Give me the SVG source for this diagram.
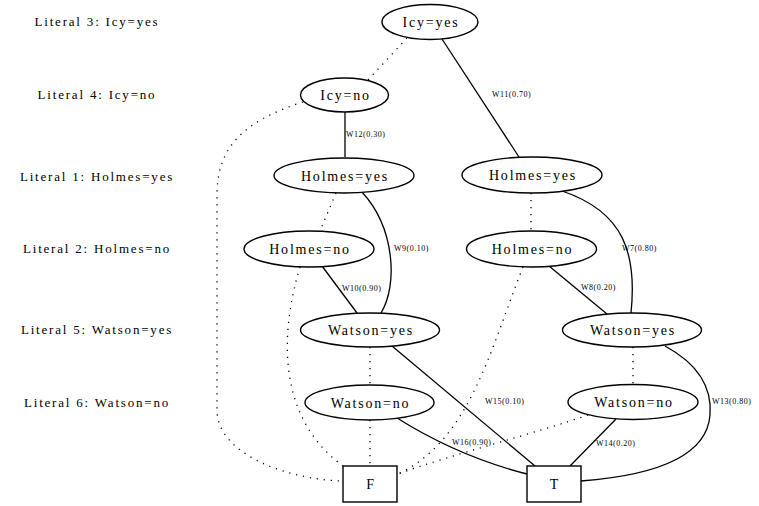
<svg xmlns="http://www.w3.org/2000/svg" width="759" height="506" viewBox="0 0 759 506">
<style>
.bg{fill:#fff}
.node ellipse,.node rect{fill:#fff;stroke:#000;stroke-width:1.4}
text{font-family:'Liberation Serif','Times New Roman','DejaVu Serif',serif;fill:#000}
.nl{font-size:14px;letter-spacing:1.8px;text-anchor:middle}
.lit{font-size:13px;letter-spacing:1.8px;text-anchor:middle}
.el{font-size:8px;letter-spacing:0.5px}
.s{fill:none;stroke:#000;stroke-width:1.3}
.d{fill:none;stroke:#000;stroke-width:1.3;stroke-dasharray:1.2 5.8}
</style>
<rect class="bg" x="0" y="0" width="759" height="506"/>
<g id="literals" font-family="Liberation Serif, serif">
<text class="lit" x="97" y="26">Literal 3: Icy=yes</text>
<text class="lit" x="97" y="99">Literal 4: Icy=no</text>
<text class="lit" x="97" y="181">Literal 1: Holmes=yes</text>
<text class="lit" x="97" y="253">Literal 2: Holmes=no</text>
<text class="lit" x="97" y="334">Literal 5: Watson=yes</text>
<text class="lit" x="97" y="407">Literal 6: Watson=no</text>
</g>
<g id="connectors">
<path class="d" d="M407,38 L368,80"/>
<path class="s" d="M442,39 L519,157"/>
<path class="s" d="M345,112 L345,157"/>
<path class="d" d="M303,102 C240,122 217,150 217,195 L217,410 C217,455 290,480 343,481"/>
<path class="d" d="M336,193 L320,231"/>
<path class="s" d="M362,192 C395,228 398,285 381,313"/>
<path class="s" d="M322,266 L357,313"/>
<path class="d" d="M300,267 C278,340 280,420 343,466"/>
<path class="d" d="M531,193 L531,231"/>
<path class="s" d="M562,191 C625,212 637,255 631,313"/>
<path class="s" d="M549,266 L607,314"/>
<path class="d" d="M523,267 C490,350 470,440 398,474"/>
<path class="d" d="M370,347 L370,385"/>
<path class="s" d="M392,346 L535,466"/>
<path class="d" d="M370,420 L370,466"/>
<path class="s" d="M397,418 C440,445 480,462 527,474"/>
<path class="d" d="M633,347 L633,384"/>
<path class="s" d="M665,346 C700,365 712,390 710,415 C707,455 660,475 581,481"/>
<path class="s" d="M616,419 L570,466"/>
<path class="d" d="M588,415 C540,432 450,455 398,474"/>
<text class="el" x="492" y="97">W11(0.70)</text>
<text class="el" x="346" y="137">W12(0.30)</text>
<text class="el" x="394" y="251">W9(0.10)</text>
<text class="el" x="622" y="251">W7(0.80)</text>
<text class="el" x="581" y="290">W8(0.20)</text>
<text class="el" x="342" y="291">W10(0.90)</text>
<text class="el" x="485" y="404">W15(0.10)</text>
<text class="el" x="712" y="404">W13(0.80)</text>
<text class="el" x="596" y="446">W14(0.20)</text>
<text class="el" x="452" y="445">W16(0.90)</text>
</g>
<g id="n_icy_yes" class="node"><ellipse cx="430" cy="22" rx="48" ry="17.5"/><text class="nl" x="431" y="27">Icy=yes</text></g>
<g id="n_icy_no" class="node"><ellipse cx="344.5" cy="95" rx="44" ry="17"/><text class="nl" x="345.5" y="100">Icy=no</text></g>
<g id="n_holmes_yes_l" class="node"><ellipse cx="344" cy="175.5" rx="70" ry="17.5"/><text class="nl" x="345" y="180.5">Holmes=yes</text></g>
<g id="n_holmes_no_l" class="node"><ellipse cx="309" cy="249" rx="65" ry="18"/><text class="nl" x="310" y="254">Holmes=no</text></g>
<g id="n_holmes_yes_r" class="node"><ellipse cx="532" cy="175" rx="70" ry="18"/><text class="nl" x="533" y="180">Holmes=yes</text></g>
<g id="n_holmes_no_r" class="node"><ellipse cx="531.5" cy="249" rx="65" ry="18"/><text class="nl" x="532.5" y="254">Holmes=no</text></g>
<g id="n_watson_yes_l" class="node"><ellipse cx="370" cy="330" rx="69.5" ry="17"/><text class="nl" x="371" y="335">Watson=yes</text></g>
<g id="n_watson_no_l" class="node"><ellipse cx="369.5" cy="402.5" rx="64.5" ry="17.5"/><text class="nl" x="370.5" y="407.5">Watson=no</text></g>
<g id="n_watson_yes_r" class="node"><ellipse cx="632" cy="330" rx="69.5" ry="17"/><text class="nl" x="633" y="335">Watson=yes</text></g>
<g id="n_watson_no_r" class="node"><ellipse cx="633" cy="402" rx="65" ry="17.5"/><text class="nl" x="634" y="407">Watson=no</text></g>
<g id="n_F" class="node"><rect x="343" y="466" width="54" height="36"/><text class="nl" x="371" y="489">F</text></g>
<g id="n_T" class="node"><rect x="527" y="466" width="54" height="36"/><text class="nl" x="555" y="489">T</text></g>
</svg>
